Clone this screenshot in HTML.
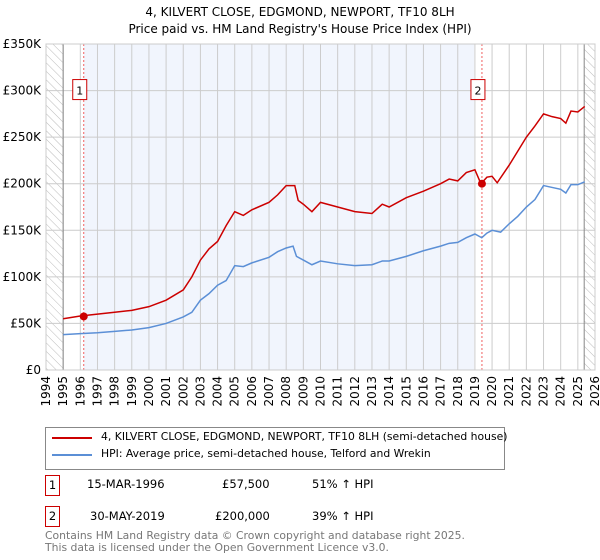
<!DOCTYPE html>
<html><head><meta charset="utf-8"><style>
body{margin:0;background:#fff;font-family:"DejaVu Sans","Liberation Sans",sans-serif;}
#wrap{position:relative;width:600px;height:560px;overflow:hidden}
.t{position:absolute;font-size:11.5px;color:#000;white-space:nowrap}
</style></head><body><div id="wrap">
<svg id="c" width="600" height="560" style="position:absolute;left:0;top:0;font-family:'DejaVu Sans','Liberation Sans',sans-serif">
<defs><pattern id="hatch" width="6" height="6" patternUnits="userSpaceOnUse" patternTransform="rotate(-45)"><line x1="0" y1="0" x2="0" y2="6" stroke="#bbb" stroke-width="1"/></pattern></defs>
<text x="300" y="16" text-anchor="middle" font-size="12">4, KILVERT CLOSE, EDGMOND, NEWPORT, TF10 8LH</text>
<text x="300" y="33" text-anchor="middle" font-size="12">Price paid vs. HM Land Registry's House Price Index (HPI)</text>
<g id="plot"></g>
</svg>
<div style="position:absolute;left:45px;top:427px;width:460px;height:43px;border:1px solid #888;box-sizing:border-box">
<div style="position:absolute;left:6px;top:9px;width:40px;height:2px;background:#cc0000"></div>
<div class="t" style="left:55px;top:2px;font-size:10.8px">4, KILVERT CLOSE, EDGMOND, NEWPORT, TF10 8LH (semi-detached house)</div>
<div style="position:absolute;left:6px;top:26px;width:40px;height:2px;background:#5b8fd6"></div>
<div class="t" style="left:55px;top:19px;font-size:10.8px">HPI: Average price, semi-detached house, Telford and Wrekin</div>
</div>
<div>
<div class="t" style="left:45px;top:475px;width:13px;height:19px;border:1px solid #cc0000;text-align:center;line-height:19px">1</div>
<div class="t" style="left:87px;top:477px">15-MAR-1996</div>
<div class="t" style="left:222px;top:477px">£57,500</div>
<div class="t" style="left:312px;top:477px">51% ↑ HPI</div>
</div>
<div>
<div class="t" style="left:45px;top:506px;width:13px;height:19px;border:1px solid #cc0000;text-align:center;line-height:19px">2</div>
<div class="t" style="left:90px;top:509px">30-MAY-2019</div>
<div class="t" style="left:215px;top:509px">£200,000</div>
<div class="t" style="left:312px;top:509px">39% ↑ HPI</div>
</div>
<div class="t" style="left:45px;top:530px;color:#777;line-height:12px;font-size:10.8px">Contains HM Land Registry data © Crown copyright and database right 2025.<br>This data is licensed under the Open Government Licence v3.0.</div>
</div>
<script>
const hpiYears=[1995,1996,1997,1998,1999,2000,2001,2002,2002.5,2003,2003.5,2004,2004.5,2005,2005.5,2006,2007,2007.5,2008,2008.4,2008.6,2009,2009.5,2010,2011,2012,2013,2013.6,2014,2015,2016,2017,2017.5,2018,2018.5,2019,2019.4,2019.7,2020,2020.5,2021,2021.5,2022,2022.5,2023,2023.5,2024,2024.3,2024.6,2025,2025.4];
const hpiValues=[38,39,40,41.5,43,45.5,50,57,62,75,82,91,96,112,111,115,121,127,131,133,122,118,113,117,114,112,113,117,117,122,128,133,136,137,142,146,142,147,150,148,157,165,175,183,198,196,194,190,199,199,202];
const priceYears=[1995,1996,1997,1998,1999,2000,2001,2002,2002.5,2003,2003.5,2004,2004.5,2005,2005.5,2006,2007,2007.5,2008,2008.5,2008.7,2009,2009.5,2010,2011,2012,2013,2013.6,2014,2015,2016,2017,2017.5,2018,2018.5,2019,2019.35,2019.7,2020,2020.3,2021,2021.5,2022,2022.5,2023,2023.5,2024,2024.3,2024.6,2025,2025.4];
const priceValues=[55,58,60,62,64,68,75,86,100,118,130,138,155,170,166,172,180,188,198,198,182,178,170,180,175,170,168,178,175,185,192,200,205,203,212,215,200,207,208,201,220,235,250,262,275,272,270,265,278,277,283];
const saleYears=[1996.2,2019.41];
const saleValues=[57.5,200];
const saleLabels=["1","2"];
const yTicks=[0,50,100,150,200,250,300,350];
const yTickLabels=["£0","£50K","£100K","£150K","£200K","£250K","£300K","£350K"];
const xTicks=[];for(let y=1994;y<=2026;y++)xTicks.push(y);

const L=46,R=595,T=44,B=370;
const xs=y=>L+(y-1994)/(2026-1994)*(R-L);
const ys=v=>B-v/350*(B-T);
const NS="http://www.w3.org/2000/svg";
const g=document.getElementById('plot');
function mk(tag,attrs,parent){const e=document.createElementNS(NS,tag);for(const k in attrs)e.setAttribute(k,attrs[k]);(parent||g).appendChild(e);return e;}

let e;
e=mk('rect',{x:xs(saleYears[0]),y:T,width:xs(2018.95)-xs(saleYears[0]),height:B-T,fill:'#f1f5fd'});


e=mk('rect',{x:L,y:T,width:xs(1995)-L,height:B-T,fill:'url(#hatch)'});


e=mk('rect',{x:xs(2025.37),y:T,width:R-xs(2025.37),height:B-T,fill:'url(#hatch)'});


xTicks.forEach(y=>{
  e=mk('line',{x1:xs(y),x2:xs(y),y1:T,y2:B,stroke:'#ccc','stroke-width':1});
  
  
  e=mk('text',{x:0,y:0,'font-size':12,'text-anchor':'end',transform:`translate(${xs(y)+4},${B+6}) rotate(-90)`});
  e.textContent=y;
  
  
});
yTicks.forEach((v,i)=>{
  e=mk('line',{x1:L,x2:R,y1:ys(v),y2:ys(v),stroke:'#ccc','stroke-width':1});
  
  
  e=mk('text',{x:L-5,y:ys(v)+4,'font-size':12,'text-anchor':'end'});
  e.textContent=yTickLabels[i];
  
  
});
e=mk('line',{x1:xs(1995),x2:xs(1995),y1:T,y2:B,stroke:'#888'});


e=mk('line',{x1:xs(2025.37),x2:xs(2025.37),y1:T,y2:B,stroke:'#888'});


saleYears.forEach((y,i)=>{
  e=mk('line',{x1:xs(y),x2:xs(y),y1:T,y2:B,stroke:'#f06060','stroke-dasharray':'2,2'});
  
  
});
e=mk('polyline',{points:hpiYears.map((y,i)=>xs(y)+','+ys(hpiValues[i])).join(' '),fill:'none',stroke:'#5b8fd6','stroke-width':1.5});


e=mk('polyline',{points:priceYears.map((y,i)=>xs(y)+','+ys(priceValues[i])).join(' '),fill:'none',stroke:'#cc0000','stroke-width':1.5});


saleYears.forEach((y,i)=>{
  e=mk('circle',{cx:xs(y),cy:ys(saleValues[i]),r:4,fill:'#cc0000'});
  
  
  e=mk('rect',{x:xs(y)-11,y:ys(300)-11,width:14,height:20,fill:'#fff',stroke:'#cc0000'});
  
  
  e=mk('text',{x:xs(y)-4,y:ys(300)+4,'font-size':11,'text-anchor':'middle'});
  e.textContent=saleLabels[i];
  
  
});
e=mk('rect',{x:L,y:T,width:R-L,height:B-T,fill:'none',stroke:'#ccc'});


</script>
</body></html>
